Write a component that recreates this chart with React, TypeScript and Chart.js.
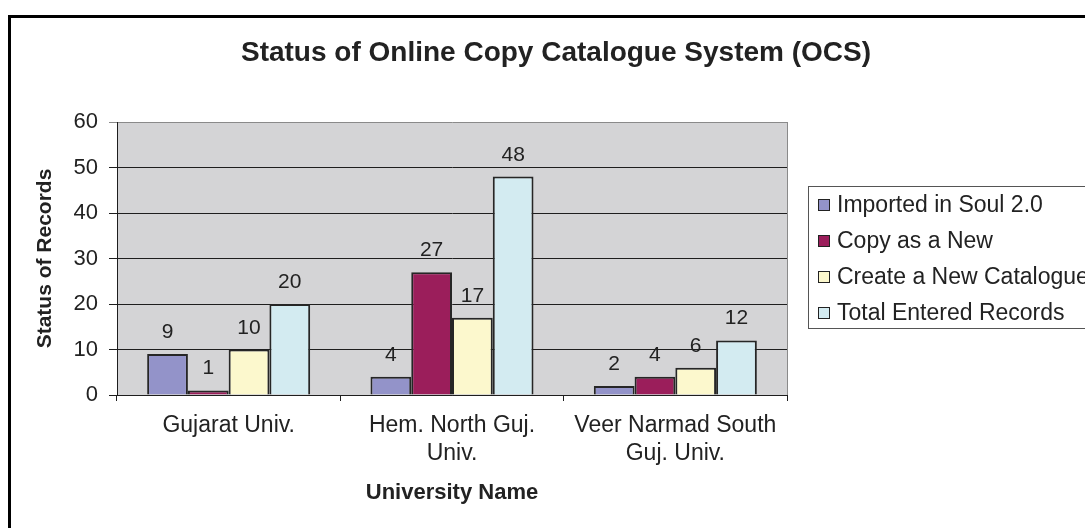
import React, { useEffect, useRef } from "react";
import { Chart, registerables } from "chart.js";

Chart.register(...registerables);

const FONT = '"Liberation Sans", Arial, sans-serif';
const TEXT = "#222222";

const chartTitle = "Status of Online Copy Catalogue System (OCS)";
const xAxisTitle = "University Name";
const yAxisTitle = "Status of Records";

const categories: string[][] = [
  ["Gujarat Univ."],
  ["Hem. North Guj.", "Univ."],
  ["Veer Narmad South", "Guj. Univ."],
];

const seriesNames = [
  "Imported in Soul 2.0",
  "Copy as a New",
  "Create a New Catalogue",
  "Total Entered Records",
];
const importedInSoul = [9, 4, 2];
const copyAsNew = [1, 27, 4];
const createNewCatalogue = [10, 17, 6];
const totalEntered = [20, 48, 12];
const seriesColors = ["#9393c9", "#9b1e5b", "#fcf8cd", "#d3ebf1"];

const yMin = 0;
const yMax = 60;
const yStep = 10;

const backgroundPlugin = {
  id: "plotBg",
  beforeDraw(chart: any) {
    const { ctx, chartArea } = chart;
    ctx.save();
    ctx.fillStyle = "#ffffff";
    ctx.fillRect(0, 0, chart.width, chart.height);
    ctx.fillStyle = "#d4d4d6";
    ctx.fillRect(
      chartArea.left,
      chartArea.top,
      chartArea.right - chartArea.left,
      chartArea.bottom - chartArea.top
    );
    ctx.restore();
  },
};

const decorPlugin = {
  id: "decor",
  afterDatasetsDraw(chart: any) {
    const { ctx } = chart;
    ctx.save();
    ctx.font = `21px ${FONT}`;
    ctx.fillStyle = TEXT;
    ctx.textAlign = "center";
    ctx.textBaseline = "alphabetic";
    chart.data.datasets.forEach((ds: any, i: number) => {
      const meta = chart.getDatasetMeta(i);
      meta.data.forEach((el: any, j: number) => {
        ctx.fillText(String(ds.data[j]), el.x, el.y - 16);
      });
    });
    ctx.restore();
  },
  afterDraw(chart: any) {
    const { ctx, chartArea } = chart;
    ctx.save();
    // right border of plot
    ctx.strokeStyle = "#8a8a8a";
    ctx.lineWidth = 1;
    ctx.beginPath();
    ctx.moveTo(chartArea.right + 0.5, chartArea.top);
    ctx.lineTo(chartArea.right + 0.5, chartArea.bottom);
    ctx.stroke();

    // outer frame
    ctx.strokeStyle = "#000000";
    ctx.lineWidth = 3;
    ctx.beginPath();
    ctx.moveTo(9.5, chart.height + 5);
    ctx.lineTo(9.5, 16.5);
    ctx.lineTo(chart.width + 5, 16.5);
    ctx.stroke();

    // title
    ctx.font = `bold 28px ${FONT}`;
    ctx.fillStyle = TEXT;
    ctx.textAlign = "center";
    ctx.textBaseline = "alphabetic";
    ctx.fillText(chartTitle, 556, 61);

    // legend
    const lx = 808.5;
    const ly = 186.5;
    ctx.fillStyle = "#ffffff";
    ctx.fillRect(lx, ly, 400, 142);
    ctx.strokeStyle = "#555555";
    ctx.lineWidth = 1;
    ctx.strokeRect(lx, ly, 400, 142);
    ctx.font = `23px ${FONT}`;
    ctx.textAlign = "left";
    chart.data.datasets.forEach((ds: any, i: number) => {
      const base = 212 + 36 * i;
      ctx.fillStyle = ds.backgroundColor;
      ctx.fillRect(818, base - 13, 12, 12);
      ctx.strokeStyle = "#222222";
      ctx.strokeRect(818.5, base - 12.5, 11, 11);
      ctx.fillStyle = TEXT;
      ctx.fillText(ds.label, 837, base);
    });
    ctx.restore();
  },
};

export default function App() {
  const canvasRef = useRef<HTMLCanvasElement | null>(null);

  useEffect(() => {
    const canvas = canvasRef.current;
    if (!canvas) return;
    const seriesData = [importedInSoul, copyAsNew, createNewCatalogue, totalEntered];
    const chart = new Chart(canvas, {
      type: "bar",
      data: {
        labels: categories,
        datasets: seriesNames.map((name, i) => ({
          label: name,
          data: seriesData[i],
          backgroundColor: seriesColors[i],
          borderColor: "#262626",
          borderWidth: 2,
          categoryPercentage: 0.73,
          barPercentage: 1,
        })),
      },
      options: {
        responsive: false,
        animation: false,
        devicePixelRatio: 1,
        layout: { padding: { left: 12, top: 122, right: 298, bottom: 22 } },
        plugins: {
          legend: { display: false },
          title: { display: false },
          tooltip: { enabled: false },
        },
        scales: {
          x: {
            afterFit(scale: any) {
              scale.height = 111;
            },
            grid: {
              drawOnChartArea: false,
              drawTicks: true,
              tickLength: 6,
              color: "#1e1e1e",
            },
            border: { color: "#1e1e1e", width: 1 },
            ticks: {
              color: TEXT,
              padding: 11,
              font: { family: FONT, size: 23, lineHeight: 1.22 },
            },
            title: {
              display: true,
              text: xAxisTitle,
              color: TEXT,
              font: { family: FONT, size: 22, weight: "bold", lineHeight: 1.2 },
              padding: { top: 0, bottom: 0 },
            },
          },
          y: {
            min: yMin,
            max: yMax,
            afterFit(scale: any) {
              scale.width = 105;
            },
            grid: {
              tickLength: 8,
              color: (c: any) => (c.tick && c.tick.value === yMax ? "#8a8a8a" : "#1e1e1e"),
            },
            border: { color: "#1e1e1e", width: 1 },
            ticks: {
              stepSize: yStep,
              color: TEXT,
              padding: 11,
              font: { family: FONT, size: 22 },
            },
            title: {
              display: true,
              text: yAxisTitle,
              color: TEXT,
              font: { family: FONT, size: 21, weight: "bold", lineHeight: 1.2 },
              padding: { top: 21, bottom: 0 },
            },
          },
        },
      },
      plugins: [backgroundPlugin, decorPlugin],
    });
    return () => chart.destroy();
  }, []);

  return (
    <div style={{ position: "fixed", left: 0, top: 0, width: 1085, height: 528, background: "#fff" }}>
      <canvas ref={canvasRef} width={1085} height={528} style={{ display: "block" }} />
    </div>
  );
}
